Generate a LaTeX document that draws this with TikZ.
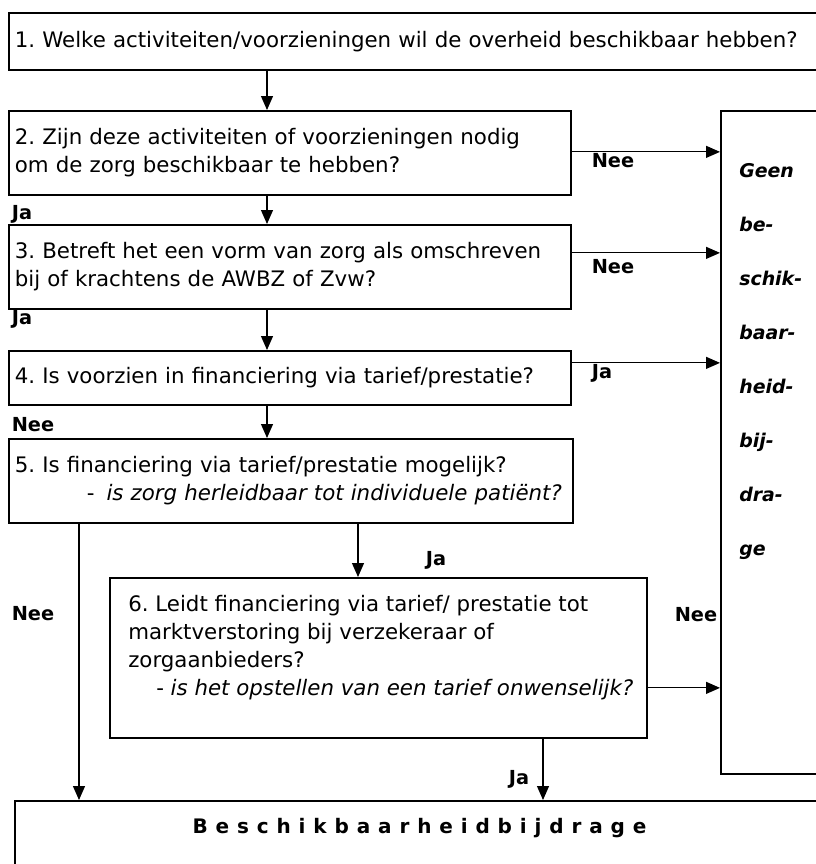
\documentclass[tikz,border=0pt]{standalone}
\usepackage{fontspec}
\setmainfont{DejaVu Sans}
\usetikzlibrary{arrows.meta}
\frenchspacing
\newcommand\maintext{\fontsize{16pt}{21pt}\selectfont}
\newcommand\lbltext{\fontsize{14.5pt}{17pt}\selectfont\bfseries}
\newcommand\geentext{\fontsize{14.2pt}{16pt}\selectfont\bfseries\itshape}
\newcommand\titletext{\fontsize{15pt}{18pt}\selectfont\bfseries}
\newcommand\lsp{\kern5.9pt}
\begin{document}
\begin{tikzpicture}[x=0.75pt, y=-0.75pt,
  frame/.style={draw, line width=1.3pt, rectangle, anchor=north west, inner sep=0pt},
  qbox/.style 2 args={frame, minimum width=#1*0.75pt, minimum height=#2*0.75pt,
    text width=(#1-12)*0.75pt, inner xsep=4.5pt, align=left, font=\maintext},
  arr/.style={-{Triangle[length=10.5pt,width=9pt]}, line width=0.9pt},
  lbl/.style={inner sep=0pt, font=\lbltext},
  geen/.style={inner sep=0pt, anchor=base west, font=\geentext}]
\useasboundingbox (0,0) rectangle (816,864);
\clip (0,0) rectangle (816,864);
\fill[white] (0,0) rectangle (816,864);

% question boxes
\node[qbox={830}{57}] (b1) at (8,12)
  {1. Welke activiteiten/voorzieningen wil de overheid beschikbaar hebben?};
\node[qbox={562}{84}] (b2) at (8,110)
  {2. Zijn deze activiteiten of voorzieningen nodig\\om de zorg beschikbaar te hebben?};
\node[qbox={562}{84}] (b3) at (8,224)
  {3. Betreft het een vorm van zorg als omschreven\\bij of krachtens de AWBZ of Zvw?};
\node[qbox={562}{54}] (b4) at (8,350)
  {4. Is voorzien in financiering via tarief/prestatie?};
\node[qbox={564}{84}] (b5) at (8,438)
  {5. Is financiering via tarief/prestatie mogelijk?\\
   \hspace*{54pt}-\hspace{9pt}\textit{is zorg herleidbaar tot individuele patiënt?}};
\node[frame, minimum width=537*0.75pt, minimum height=160*0.75pt] (b6) at (109,577) {};
\node[inner sep=0pt, anchor=west, align=left, font=\maintext] (b6t)
  at ([xshift=14.25pt, yshift=7.5pt]b6.west)
  {6. Leidt financiering via tarief/ prestatie tot\\
   marktverstoring bij verzekeraar of\\
   zorgaanbieders?\\
   \hspace*{21pt}- \textit{is het opstellen van een tarief onwenselijk?}};

% outcome boxes
\node[frame, minimum width=120*0.75pt, minimum height=663*0.75pt] (geenbox) at (720,110) {};
\foreach \w [count=\i] in {Geen, be-, schik-, baar-, heid-, bij-, dra-, ge}
  \node[geen] (g\i) at (739,{123+54*\i}) {\w};
\node[frame, minimum width=830*0.75pt, minimum height=100*0.75pt] (bot) at (14,800) {};
\node[inner sep=0pt, font=\titletext] (bottitle) at (419.5,828)
  {B\lsp e\lsp s\lsp c\lsp h\lsp i\lsp k\lsp b\lsp a\lsp a\lsp r\lsp h\lsp e\lsp i\lsp d\lsp b\lsp i\lsp j\lsp d\lsp r\lsp a\lsp g\lsp e};

% column positions of the vertical connectors
\coordinate (c1) at (267,0);
\coordinate (cL) at (79,0);
\coordinate (cM) at (358,0);
\coordinate (cR) at (543,0);

% main spine
\draw[arr] (b1.south -| c1) -- (b2.north -| c1);
\draw[arr] (b2.south -| c1) -- (b3.north -| c1);
\draw[arr] (b3.south -| c1) -- (b4.north -| c1);
\draw[arr] (b4.south -| c1) -- (b5.north -| c1);
\draw[arr] (b5.south -| cM) -- (b6.north -| cM);
\draw[arr] (b5.south -| cL) -- (bot.north -| cL);
\draw[arr] (b6.south -| cR) -- (bot.north -| cR);

% branches to the right
\draw[arr] ([yshift=0.75pt]b2.east) -- ([yshift=0.75pt]b2.east -| geenbox.west);
\draw[arr] ([yshift=10.5pt]b3.east) -- ([yshift=10.5pt]b3.east -| geenbox.west);
\draw[arr] ([yshift=11.25pt]b4.east) -- ([yshift=11.25pt]b4.east -| geenbox.west);
\draw[arr] ([yshift=-22.5pt]b6.east) -- ([yshift=-22.5pt]b6.east -| geenbox.west);

% answer labels
\node[lbl] (l2) at (613,161) {Nee};
\node[lbl] (l3) at (613,267) {Nee};
\node[lbl] (l4) at (602,373) {Ja};
\node[lbl] (lja2) at (22,214) {Ja};
\node[lbl] (lja3) at (22,319) {Ja};
\node[lbl] (lnee4) at (33,425) {Nee};
\node[lbl] (lja5) at (436,560) {Ja};
\node[lbl] (lnee5) at (33,614) {Nee};
\node[lbl] (lnee6) at (696,615) {Nee};
\node[lbl] (lja6) at (519,779) {Ja};
\end{tikzpicture}
\end{document}
